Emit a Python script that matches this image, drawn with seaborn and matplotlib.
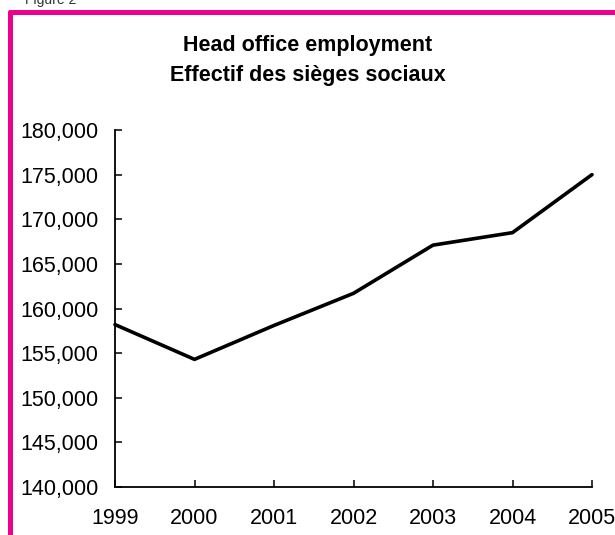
import pandas as pd
import matplotlib
matplotlib.use("Agg")
import matplotlib.pyplot as plt
from matplotlib.lines import Line2D
from matplotlib.ticker import FuncFormatter
import seaborn as sns

# data
years = [1999, 2000, 2001, 2002, 2003, 2004, 2005]
employment = [158200, 154300, 158100, 161700, 167100, 168500, 175000]
y_ticks = list(range(140000, 180001, 5000))

df = pd.DataFrame({"year": years, "employment": employment})

sns.set_style("ticks")
plt.rcParams["font.family"] = ["Liberation Sans", "DejaVu Sans"]
plt.rcParams["text.color"] = "black"

pink = "#EC008C"

fig = plt.figure(figsize=(6.15, 5.35), dpi=100)
ax = fig.add_axes([115 / 615, 1 - 487 / 535, (592 - 115) / 615, (487 - 130) / 535])

sns.lineplot(data=df, x="year", y="employment", ax=ax, color="black",
             linewidth=2.6, clip_on=False)

ax.set_xlim(years[0], years[-1])
ax.set_ylim(y_ticks[0], y_ticks[-1])
ax.set_xticks(years)
ax.set_yticks(y_ticks)
ax.yaxis.set_major_formatter(FuncFormatter(lambda v, p: f"{int(v):,}"))
ax.set_xlabel("")
ax.set_ylabel("")
ax.tick_params(direction="in", length=5, width=1.1, labelsize=15.5, color="black",
               labelcolor="black")
ax.tick_params(axis="y", pad=12)
ax.tick_params(axis="x", pad=15)
sns.despine(ax=ax)
for s in ["left", "bottom"]:
    ax.spines[s].set_linewidth(1.3)
    ax.spines[s].set_color("black")

fig.text(0.5, 1 - 46 / 535, "Head office employment", ha="center", va="center",
         fontsize=15.5, fontweight="bold", color="black")
fig.text(0.5, 1 - 76 / 535, "Effectif des sièges sociaux", ha="center", va="center",
         fontsize=15.5, fontweight="bold", color="black")
fig.text(25 / 615, 1.0, "Figure 2", ha="left", va="center", fontsize=10, color="#333333")

# magenta frame (top and left edges)
fig.add_artist(Line2D([10 / 615, 1.0], [1 - 12 / 535, 1 - 12 / 535], color=pink,
                      linewidth=3.6, transform=fig.transFigure))
fig.add_artist(Line2D([10 / 615, 10 / 615], [0.0, 1 - 12 / 535], color=pink,
                      linewidth=3.6, transform=fig.transFigure))

fig.savefig("out.png", dpi=100)
